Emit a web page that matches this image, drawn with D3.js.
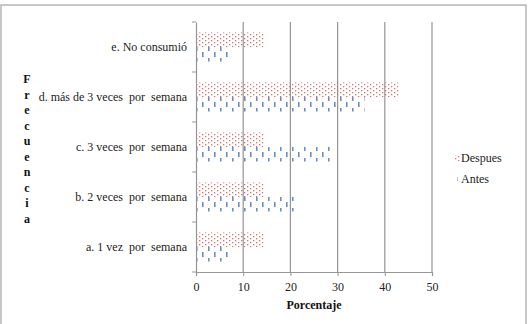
<!DOCTYPE html>
<html>
<head>
<meta charset="utf-8">
<script src="https://d3js.org/d3.v7.min.js"></script>
<style>
  body { margin: 0; background: #fff; }
  svg text { font-family: "Liberation Serif", "Times New Roman", serif; white-space: pre; }
</style>
</head>
<body>
<div class="chart"></div>
<script>
// categories bottom to top as in the picture
var categories = ["a. 1 vez  por  semana", "b. 2 veces  por  semana", "c. 3 veces  por  semana", "d. más de 3 veces  por  semana", "e. No consumió"];
var antes = [7.1, 21.4, 28.6, 35.7, 7.1];
var despues = [14.3, 14.3, 14.3, 42.9, 14.3];
var xTicks = [0, 10, 20, 30, 40, 50];
var seriesNames = ["Despues", "Antes"];

var width = 531, height = 324;
var margin = {top: 22, left: 196, right: 99, bottom: 52};
var pw = width - margin.left - margin.right,
    ph = height - margin.top - margin.bottom;
var serif = '"Liberation Serif", "Times New Roman", serif';

var svg = d3.select(".chart").append("svg")
  .attr("width", width).attr("height", height);

// patterns
var defs = svg.append("defs");
var pd = defs.append("pattern").attr("id", "pDespues")
  .attr("patternUnits", "userSpaceOnUse").attr("width", 6).attr("height", 4);
pd.append("rect").attr("x", 0).attr("y", 0).attr("width", 1.3).attr("height", 1.3).attr("fill", "#e06b6b");
pd.append("rect").attr("x", 3).attr("y", 2).attr("width", 1.3).attr("height", 1.3).attr("fill", "#e06b6b");

var pa = defs.append("pattern").attr("id", "pAntes")
  .attr("patternUnits", "userSpaceOnUse").attr("width", 12).attr("height", 12);
pa.append("rect").attr("x", 0).attr("y", 0).attr("width", 1.6).attr("height", 5).attr("fill", "#6a8fbe");
pa.append("rect").attr("x", 6).attr("y", 6).attr("width", 1.6).attr("height", 5).attr("fill", "#6a8fbe");

// outer border
svg.append("rect").attr("x", 1).attr("y", 5).attr("width", 525).attr("height", 330)
  .attr("fill", "none").attr("stroke", "#b5b5b5").attr("stroke-width", 1.5);

var g = svg.append("g").attr("transform", "translate(" + margin.left + "," + margin.top + ")");

var x = d3.scaleLinear().domain([0, 50]).range([0, pw]);
var y = d3.scaleBand().domain(categories.slice().reverse()).range([0, ph]);
var inner = d3.scaleBand().domain(seriesNames).range([y.bandwidth() * 0.21, y.bandwidth() * 0.79]);

// gridlines
g.selectAll(".grid").data(xTicks.slice(1)).enter().append("line")
  .attr("x1", function(d) { return x(d); }).attr("x2", function(d) { return x(d); })
  .attr("y1", 0).attr("y2", ph)
  .attr("stroke", "#959595").attr("stroke-width", 1.2);

var rows = categories.map(function(c, i) {
  return {cat: c, Despues: despues[i], Antes: antes[i]};
});

var rowG = g.selectAll(".row").data(rows).enter().append("g")
  .attr("transform", function(d) { return "translate(0," + y(d.cat) + ")"; });

rowG.selectAll("rect").data(function(d) {
  return seriesNames.map(function(s) { return {s: s, v: d[s]}; });
}).enter().append("rect")
  .attr("x", 0)
  .attr("y", function(d) { return inner(d.s); })
  .attr("height", inner.bandwidth())
  .attr("width", function(d) { return x(d.v); })
  .attr("fill", function(d) { return d.s === "Despues" ? "url(#pDespues)" : "url(#pAntes)"; });

// axes
var yAxis = g.append("g").call(d3.axisLeft(y).tickSize(0).tickPadding(9));
yAxis.attr("font-family", null);
yAxis.select(".domain").attr("stroke", "#959595").attr("stroke-width", 1.2);
yAxis.selectAll("text").attr("font-size", 12).attr("fill", "#222")
  .attr("xml:space", "preserve").style("font-family", serif);
// category boundary ticks
g.selectAll(".ytick").data(d3.range(categories.length + 1)).enter().append("line")
  .attr("x1", -4).attr("x2", 0)
  .attr("y1", function(i) { return i * y.step(); }).attr("y2", function(i) { return i * y.step(); })
  .attr("stroke", "#959595");

var xAxis = g.append("g").attr("transform", "translate(0," + ph + ")")
  .call(d3.axisBottom(x).tickValues(xTicks).tickSize(4).tickPadding(6));
xAxis.attr("font-family", null);
xAxis.select(".domain").attr("stroke", "#959595").attr("stroke-width", 1.2);
xAxis.selectAll("line").attr("stroke", "#959595");
xAxis.selectAll("text").attr("font-size", 12).attr("fill", "#222")
  .style("font-family", serif);

// axis titles
svg.append("text").attr("x", margin.left + pw / 2).attr("y", 309)
  .attr("text-anchor", "middle").attr("font-size", 12).attr("font-weight", "bold")
  .attr("fill", "#111").style("font-family", serif).text("Porcentaje");

var vt = "Frecuencia".split("");
svg.selectAll(".vt").data(vt).enter().append("text")
  .attr("x", 27).attr("y", function(d, i) { return 83 + i * 15.5; })
  .attr("text-anchor", "middle").attr("font-size", 12).attr("font-weight", "bold")
  .attr("fill", "#111").style("font-family", serif).text(function(d) { return d; });

// legend
var leg = svg.append("g").attr("transform", "translate(455,162)");
seriesNames.forEach(function(s, i) {
  var lg = leg.append("g").attr("transform", "translate(0," + (i * 21) + ")");
  if (s === "Despues") {
    lg.append("rect").attr("x", 0).attr("y", -7).attr("width", 6).attr("height", 6)
      .attr("fill", "url(#pDespues)");
  } else {
    lg.append("rect").attr("x", 2).attr("y", -6).attr("width", 1).attr("height", 4)
      .attr("fill", "#b9c8dc");
  }
  lg.append("text").attr("x", 6).attr("y", 0).attr("font-size", 12)
    .attr("fill", "#222").style("font-family", serif).text(s);
});
</script>
</body>
</html>
